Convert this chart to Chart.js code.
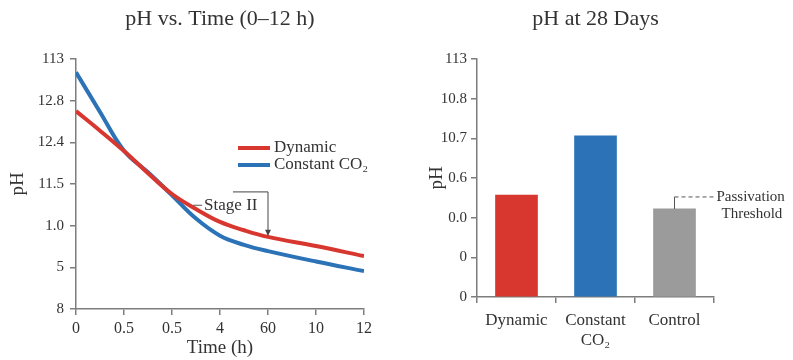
<!DOCTYPE html>
<html>
<head>
<meta charset="utf-8">
<script src="https://cdn.jsdelivr.net/npm/chart.js@4.4.1/dist/chart.umd.min.js"></script>
<style>
  html, body { margin: 0; padding: 0; background: #fff; }
  #wrap { position: relative; width: 793px; height: 360px; overflow: hidden; }
  #c1 { position: absolute; left: 0; top: 0; }
  #c2 { position: absolute; left: 400px; top: 0; }
</style>
</head>
<body>
<div id="wrap">
  <canvas id="c1" width="400" height="360"></canvas>
  <canvas id="c2" width="393" height="360"></canvas>
</div>
<script>
// ---------- data ----------
const timeTickLabels = ['0', '0.5', '0.5', '4', '60', '10', '12'];
const phTickLabelsLeft = ['8', '5', '1.0', '11.5', '12.4', '12.8', '113'];
const timePositions = [0, 0.5, 1, 1.5, 2, 2.5, 3, 3.5, 4, 5, 6];
const dynamicPH = [4.75, 4.28, 3.79, 3.26, 2.76, 2.40, 2.09, 1.89, 1.73, 1.51, 1.27];
const constantCO2PH = [5.68, 4.73, 3.80, 3.28, 2.73, 2.17, 1.76, 1.54, 1.39, 1.14, 0.91];

const barCategories = ['Dynamic', ['Constant', 'CO\u2082'], 'Control'];
const phTickLabelsRight = ['0', '0', '0.0', '0.6', '10.7', '10.8', '113'];
const ph28Days = [2.57, 4.06, 2.22];

const seriesNames = ['Dynamic', 'Constant CO\u2082'];

// ---------- style ----------
const RED = '#d8372f';
const BLUE = '#2b72b6';
const GRAY = '#9b9b9b';
const AXIS = '#7d7d7d';
const TEXT = '#333333';
const FONT = '"Liberation Serif", "Times New Roman", serif';

Chart.defaults.font.family = FONT;
Chart.defaults.color = TEXT;

function toPts(xs, ys) { return xs.map((x, i) => ({ x: x, y: ys[i] })); }

// ---------- left chart annotations ----------
const leftAnnot = {
  id: 'leftAnnot',
  afterDatasetsDraw(chart) {
    const { ctx, chartArea, scales: { x, y } } = chart;
    ctx.save();
    // legend
    const ds = chart.data.datasets;
    ds.forEach((d, i) => {
      const ly = chartArea.top + 89 + i * 17;
      ctx.strokeStyle = d.borderColor;
      ctx.lineWidth = 4;
      ctx.beginPath();
      ctx.moveTo(chartArea.left + 162, ly);
      ctx.lineTo(chartArea.left + 194, ly);
      ctx.stroke();
      ctx.fillStyle = TEXT;
      ctx.font = '17px ' + FONT;
      ctx.textBaseline = 'middle';
      ctx.textAlign = 'left';
      ctx.fillText(d.label, chartArea.left + 198, ly);
    });
    // Stage II label
    const sx = x.getPixelForValue(2.44), sy = y.getPixelForValue(2.49);
    ctx.strokeStyle = '#555';
    ctx.lineWidth = 1;
    ctx.beginPath();
    ctx.moveTo(sx, sy);
    ctx.lineTo(sx + 9, sy);
    ctx.stroke();
    ctx.fillStyle = TEXT;
    ctx.font = '17px ' + FONT;
    ctx.textBaseline = 'middle';
    ctx.fillText('Stage II', sx + 11, sy);
    // bracket arrow
    const bx1 = x.getPixelForValue(3.27), bx2 = x.getPixelForValue(4);
    const by = y.getPixelForValue(2.81), ay = y.getPixelForValue(1.78);
    ctx.strokeStyle = '#444';
    ctx.beginPath();
    ctx.moveTo(bx1, by);
    ctx.lineTo(bx2, by);
    ctx.lineTo(bx2, ay);
    ctx.stroke();
    ctx.fillStyle = '#444';
    ctx.beginPath();
    ctx.moveTo(bx2 - 3, ay - 5);
    ctx.lineTo(bx2 + 3, ay - 5);
    ctx.lineTo(bx2, ay + 1);
    ctx.closePath();
    ctx.fill();
    ctx.restore();
  }
};

new Chart(document.getElementById('c1'), {
  type: 'line',
  data: {
    datasets: [
      { label: seriesNames[0], data: toPts(timePositions, dynamicPH), borderColor: RED, borderWidth: 4, pointRadius: 0, tension: 0.4, fill: false },
      { label: seriesNames[1], data: toPts(timePositions, constantCO2PH), borderColor: BLUE, borderWidth: 4, pointRadius: 0, tension: 0.4, fill: false }
    ]
  },
  options: {
    responsive: false,
    animation: false,
    layout: { padding: { left: 0, right: 36, top: 0, bottom: 0 } },
    plugins: {
      legend: { display: false },
      tooltip: { enabled: false },
      title: {
        display: true,
        fullSize: false,
        text: 'pH vs. Time (0\u201312 h)',
        font: { size: 22, weight: 'normal', family: FONT },
        color: TEXT,
        padding: { top: 6, bottom: 26.6 }
      }
    },
    scales: {
      x: {
        type: 'linear', min: 0, max: 6,
        afterFit: s => { s.height = 51; },
        ticks: { stepSize: 1, autoSkip: false, maxRotation: 0, padding: 4, font: { size: 16 }, color: TEXT,
                 callback: v => timeTickLabels[v] },
        grid: { drawOnChartArea: false, tickLength: 6, color: AXIS, lineWidth: 1.5 },
        border: { color: AXIS, width: 1.5 },
        title: { display: true, text: 'Time (h)', font: { size: 19 }, color: TEXT, padding: { top: 0, bottom: 1 } }
      },
      y: {
        type: 'linear', min: 0, max: 6,
        afterFit: s => { s.width = 76; },
        ticks: { stepSize: 1, autoSkip: false, padding: 6, font: { size: 15 }, color: TEXT,
                 callback: v => phTickLabelsLeft[v] },
        grid: { drawOnChartArea: false, tickLength: 6, color: AXIS, lineWidth: 1.5 },
        border: { color: AXIS, width: 1.5 },
        title: { display: true, text: 'pH', font: { size: 19 }, color: TEXT, padding: { top: 7, bottom: 0 } }
      }
    }
  },
  plugins: [leftAnnot]
});

// ---------- right chart annotations ----------
const rightAnnot = {
  id: 'rightAnnot',
  afterDatasetsDraw(chart) {
    const { ctx } = chart;
    const bar = chart.getDatasetMeta(0).data[2];
    const bx = bar.x, by = bar.y;
    ctx.save();
    ctx.strokeStyle = '#555';
    ctx.lineWidth = 1;
    ctx.beginPath();
    ctx.moveTo(bx, by);
    ctx.lineTo(bx, by - 12);
    ctx.stroke();
    ctx.setLineDash([4, 3]);
    ctx.beginPath();
    ctx.moveTo(bx, by - 12);
    ctx.lineTo(bx + 39, by - 12);
    ctx.stroke();
    ctx.setLineDash([]);
    ctx.fillStyle = TEXT;
    ctx.font = '15px ' + FONT;
    ctx.textBaseline = 'middle';
    ctx.textAlign = 'left';
    ctx.fillText('Passivation', bx + 42, by - 12);
    ctx.fillText('Threshold', bx + 47, by + 5);
    ctx.restore();
  }
};

new Chart(document.getElementById('c2'), {
  type: 'bar',
  data: {
    labels: barCategories,
    datasets: [{
      data: ph28Days,
      backgroundColor: [RED, BLUE, GRAY],
      borderWidth: 0,
      barThickness: 42
    }]
  },
  options: {
    responsive: false,
    animation: false,
    layout: { padding: { left: 0, right: 79, top: 0, bottom: 0 } },
    plugins: {
      legend: { display: false },
      tooltip: { enabled: false },
      title: {
        display: true,
        fullSize: false,
        text: 'pH at 28 Days',
        font: { size: 22, weight: 'normal', family: FONT },
        color: TEXT,
        padding: { top: 6, bottom: 26.6 }
      }
    },
    scales: {
      x: {
        afterFit: s => { s.height = 63; },
        ticks: { autoSkip: false, maxRotation: 0, padding: 7, font: { size: 17 }, color: TEXT },
        grid: { drawOnChartArea: false, tickLength: 6, color: AXIS, lineWidth: 1.5 },
        border: { color: AXIS, width: 1.5 }
      },
      y: {
        type: 'linear', min: 0, max: 6,
        afterFit: s => { s.width = 77; },
        ticks: { stepSize: 1, autoSkip: false, padding: 4, font: { size: 15 }, color: TEXT,
                 callback: v => phTickLabelsRight[v] },
        grid: { drawOnChartArea: false, tickLength: 6, color: AXIS, lineWidth: 1.5 },
        border: { color: AXIS, width: 1.5 },
        title: { display: true, text: 'pH', font: { size: 19 }, color: TEXT, padding: { top: 26, bottom: 0 } }
      }
    }
  },
  plugins: [rightAnnot]
});
</script>
</body>
</html>
